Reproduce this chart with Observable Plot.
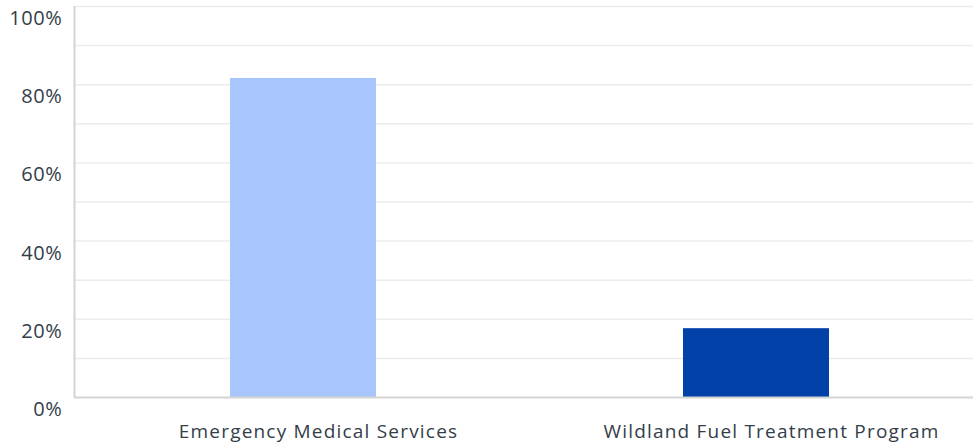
<!DOCTYPE html>
<html><head><meta charset="utf-8">
<script src="https://cdn.jsdelivr.net/npm/d3@7"></script>
<script src="https://cdn.jsdelivr.net/npm/@observablehq/plot@0.6"></script>
<style>body{margin:0;background:#fff}</style>
</head><body><div id="chart"></div>
<script>
const categories = ["Emergency Medical Services", "Wildland Fuel Treatment Program"];
const values = [81.6, 17.6];
const colors = ["#a8c6fb", "#0141a8"];
const yTicks = [0, 20, 40, 60, 80, 100];
const gridTicks = [0, 10, 20, 30, 40, 50, 60, 70, 80, 90, 100];

const data = categories.map((c, i) => ({cat: c, value: values[i], color: colors[i]}));

const chart = Plot.plot({
  width: 973, height: 448,
  marginLeft: 74, marginRight: 0, marginTop: 6, marginBottom: 51,
  style: {fontFamily: "'Open Sans', sans-serif", background: "#fff"},
  x: {domain: categories, range: [76.5, 982.5], paddingInner: 0.678, paddingOuter: 0.339, axis: null},
  y: {domain: [0, 100], axis: null},
  marks: [
    Plot.ruleY(gridTicks.slice(1), {stroke: "#ececec", strokeWidth: 1.5}),
    Plot.barY(data, {x: "cat", y: "value", fill: "color"}),
    Plot.ruleY([0], {stroke: "#d4d4d4", strokeWidth: 2}),
    Plot.ruleX([categories[0]], {y1: 0, y2: 100, dx: -229, stroke: "#d4d4d4", strokeWidth: 2}),
    Plot.text(yTicks, {y: d => d, text: d => d + "%", frameAnchor: "left", textAnchor: "end", dx: -12, dy: 12, fontSize: 20, fill: "#333e48", className: "ylab"}),
    Plot.axisX({tickSize: 0, tickPadding: 27, fontSize: 19, fill: "#333e48", dx: 15, label: null})
  ]
});
d3.select(chart).selectAll("g[aria-label='x-axis tick label'] text").attr("letter-spacing", "1.2px");
d3.select(chart).selectAll(".ylab text").attr("letter-spacing", "0.6px");
document.getElementById("chart").append(chart);
</script></body></html>
